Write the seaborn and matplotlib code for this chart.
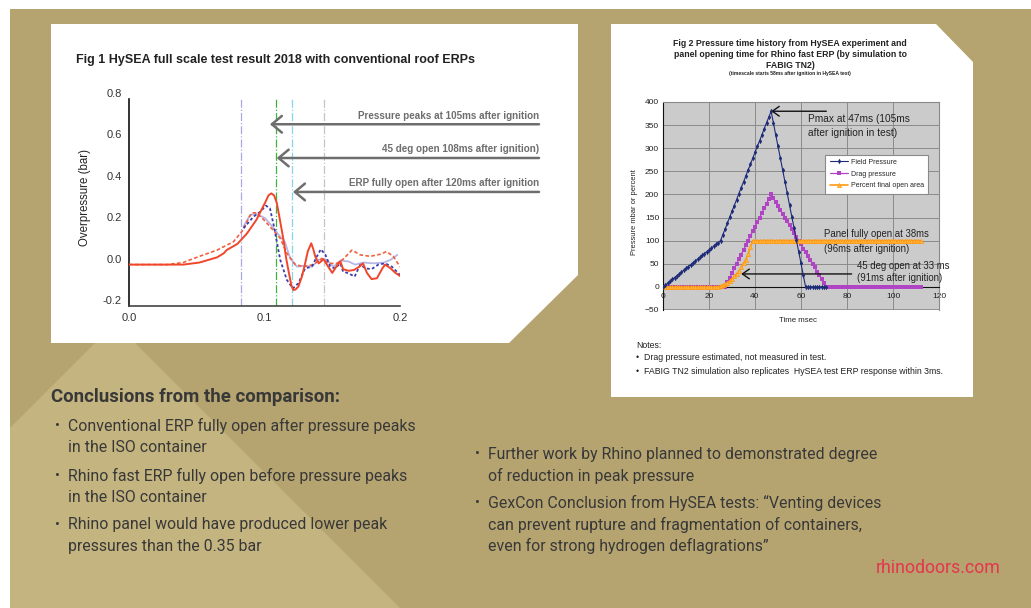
import matplotlib
matplotlib.use("Agg")
import matplotlib.pyplot as plt
from matplotlib.patches import Polygon
import numpy as np
import seaborn as sns

# ---------------- data: Fig 1 (HySEA test, overpressure in bar vs time in s)
red_solid_t = [0.0, 0.02, 0.04, 0.052, 0.065, 0.070, 0.072, 0.080, 0.087, 0.094,
               0.1005, 0.103, 0.105, 0.107, 0.109, 0.111, 0.114, 0.116, 0.118, 0.120,
               0.1214, 0.123, 0.125, 0.1275, 0.130, 0.132, 0.1345, 0.136, 0.1374, 0.140,
               0.1436, 0.147, 0.150, 0.154, 0.156, 0.158, 0.162, 0.166, 0.170, 0.1727,
               0.1756, 0.179, 0.183, 0.187, 0.189, 0.193, 0.1966, 0.200]
red_solid_p = [0.0, 0.0, 0.0, 0.01, 0.035, 0.055, 0.07, 0.10, 0.15, 0.216,
               0.30, 0.335, 0.344, 0.335, 0.30, 0.23, 0.12, 0.03, -0.04, -0.105,
               -0.123, -0.12, -0.106, -0.06, 0.006, 0.065, 0.103, 0.075, 0.04, 0.006,
               0.026, -0.01, -0.04, 0.0, 0.015, -0.022, -0.03, -0.026, -0.01, 0.006,
               -0.04, -0.07, -0.066, -0.018, 0.0, -0.018, -0.04, -0.055]

red_dash_t = [0.0, 0.028, 0.040, 0.052, 0.065, 0.077, 0.0845, 0.088, 0.0906, 0.094,
              0.099, 0.104, 0.1116, 0.1165, 0.1227, 0.129, 0.136, 0.1424, 0.147, 0.1535,
              0.158, 0.1645, 0.1707, 0.178, 0.1855, 0.190, 0.195, 0.200]
red_dash_p = [0.0, 0.0, 0.01, 0.04, 0.07, 0.11, 0.17, 0.22, 0.25, 0.25,
              0.22, 0.184, 0.127, 0.055, 0.0, -0.01, 0.0, 0.03, 0.006, 0.006,
              0.026, 0.07, 0.047, 0.04, 0.05, 0.063, 0.04, -0.01]

blue_dot_t = [0.0845, 0.092, 0.097, 0.101, 0.104, 0.107, 0.1116, 0.1165, 0.121, 0.125,
              0.130, 0.135, 0.1387, 0.1416, 0.145, 0.1485, 0.152, 0.156, 0.158, 0.162,
              0.1665, 0.1707, 0.1744, 0.179, 0.184, 0.189, 0.194, 0.200]
blue_dot_p = [0.176, 0.232, 0.256, 0.285, 0.272, 0.184, 0.023, -0.074, -0.115, -0.09,
              -0.018, -0.01, 0.04, 0.074, 0.047, -0.01, -0.018, 0.006, -0.034, -0.042,
              -0.058, 0.0, -0.018, -0.022, 0.0, 0.006, -0.01, -0.05]

lilac_t = [0.0845, 0.0894, 0.094, 0.1005, 0.105, 0.1116, 0.115, 0.119, 0.124, 0.129,
           0.135, 0.140, 0.145, 0.151, 0.156, 0.162, 0.167, 0.173, 0.1805, 0.188,
           0.193, 0.198]
lilac_p = [0.184, 0.24, 0.245, 0.224, 0.19, 0.135, 0.11, 0.03, -0.01, -0.006,
           -0.01, 0.023, 0.026, -0.01, 0.02, 0.015, 0.0, 0.01, 0.006, 0.01,
           0.023, 0.047]

event_lines = [0.0827, 0.1085, 0.120, 0.144]
event_colors = ["#a9a9e2", "#3cb43c", "#86d6e6", "#c4c4c4"]

arrow_labels = ["Pressure peaks at 105ms after ignition",
                "45 deg open 108ms after ignition)",
                "ERP fully open after 120ms after ignition"]
arrow_heads = [(0.104, 0.678), (0.109, 0.515), (0.121, 0.351)]

# ---------------- data: Fig 2 (simulation, pressure mbar / percent vs time ms)
field_time = np.arange(0, 72)
field_pressure = [0, 4, 8, 12, 16, 20, 24, 28, 32, 36, 40, 44, 48, 52, 56, 60,
                  64, 68, 72, 76, 80, 84, 88, 92, 96, 100,
                  113, 125, 138, 151, 164, 176, 189, 202, 215, 227, 240,
                  253, 265, 278, 291, 304, 316, 329, 342, 355, 367, 380,
                  355, 329, 304, 279, 253, 228, 203, 177, 152, 127, 101, 76, 51, 25, 0,
                  0, 0, 0, 0, 0, 0, 0, 0, 0]

sim_time = np.arange(0, 113)
drag_pressure = ([0] * 28 +
                 [10, 20, 30, 40, 50, 60, 70, 80, 90, 100,
                  110, 120, 130, 140, 150, 160, 170, 180, 190, 200] +
                 [192, 183, 175, 167, 158, 150, 142, 133, 125, 117, 108, 100,
                  92, 83, 75, 67, 58, 50, 42, 33, 25, 17, 8, 0] +
                 [0] * 41)
open_area = ([0] * 25 +
             [2, 4, 6, 9, 13, 18, 23, 28, 34, 42, 51, 59, 71, 86] +
             [100] * 74)

# ---------------- layout helpers (pixel coordinates of the 1031x608 slide)
W, H = 1031, 608
TAN = "#b5a470"
TAN_LIGHT = "#c4b47f"
TEXT = "#383838"

sns.set_style("white")
plt.rcParams['font.family'] = ['Liberation Sans', 'DejaVu Sans']
BODY = ['Roboto', 'DejaVu Sans']

fig = plt.figure(figsize=(W / 100, H / 100), dpi=100)
fig.patch.set_facecolor("white")


def px_axes(left, top, right, bottom):
    return fig.add_axes([left / W, 1 - bottom / H, (right - left) / W, (bottom - top) / H])


def overlay_axes():
    a = fig.add_axes([0, 0, 1, 1])
    a.set_xlim(0, W)
    a.set_ylim(H, 0)
    a.axis("off")
    a.patch.set_alpha(0)
    return a


bg = overlay_axes()

# slide background, lighter wedge and the two white cards
bg.add_patch(Polygon([(10, 9), (W, 9), (W, H), (10, H)], closed=True, fc=TAN, ec="none"))
bg.add_patch(Polygon([(10, 428), (115, 323), (400, H), (10, H)], closed=True, fc=TAN_LIGHT, ec="none"))
bg.add_patch(Polygon([(51, 24), (578, 24), (578, 275), (509, 343), (51, 343)],
                     closed=True, fc="white", ec="none"))
bg.add_patch(Polygon([(611, 24), (936, 24), (973, 62), (973, 397), (611, 397)],
                     closed=True, fc="white", ec="none"))

# ---------------- Fig 1
ax1 = px_axes(129, 99, 400, 306)
ax1.set_facecolor("none")
for x, c in zip(event_lines, event_colors):
    ax1.axvline(x, color=c, lw=0.9, ls="-.", zorder=1)

sns.lineplot(x=lilac_t, y=lilac_p, ax=ax1, color="#b7b7e6", lw=1.3, zorder=2)
sns.lineplot(x=red_dash_t, y=red_dash_p, ax=ax1, color="#f2603e", lw=1.2,
             linestyle=(0, (2.2, 1.4)), zorder=3)
sns.lineplot(x=blue_dot_t, y=blue_dot_p, ax=ax1, color="#3c3caa", lw=1.3,
             linestyle=(0, (1.6, 1.3)), zorder=4)
sns.lineplot(x=red_solid_t, y=red_solid_p, ax=ax1, color="#f0462a", lw=1.4, zorder=5)

ax1.set_xlim(0, 0.2)
ax1.set_ylim(-0.2, 0.8)
ax1.set_xticks([0.0, 0.1, 0.2])
ax1.set_xticklabels(["0.0", "0.1", "0.2"])
ax1.set_xticks(np.arange(0, 0.2001, 0.02), minor=True)
ax1.set_yticks([-0.2, 0.0, 0.2, 0.4, 0.6, 0.8])
ax1.set_yticklabels(["-0.2", "0.0", "0.2", "0.4", "0.6", "0.8"])
ax1.set_yticks([-0.1, 0.1, 0.3, 0.5, 0.7], minor=True)
ax1.tick_params(which="major", direction="inout", length=6, width=1, labelsize=8,
                labelcolor="#333333", color="#222222", pad=2)
ax1.tick_params(which="minor", direction="in", length=4, width=1, color="#222222")
for lab in ax1.get_yticklabels():
    lab.set_verticalalignment("bottom")
for s in ["top", "right"]:
    ax1.spines[s].set_visible(False)
ax1.spines["left"].set_color("#111111")
ax1.spines["bottom"].set_color("#444444")
ax1.spines["left"].set_linewidth(1.2)
ax1.spines["bottom"].set_linewidth(1.2)
ax1.set_xlabel("")
ax1.set_ylabel("")

for (hx, hy) in arrow_heads:
    ax1.annotate("", xy=(hx, hy), xytext=(0.3026, hy), annotation_clip=False,
                 arrowprops=dict(arrowstyle="->,head_length=0.6,head_width=0.5",
                                 color="#6e6e6e", lw=1.8, mutation_scale=12,
                                 shrinkA=0, shrinkB=0))

# ---------------- Fig 2
ax2 = px_axes(663, 102, 939, 310)
ax2.set_facecolor("#cbcbcb")
sns.lineplot(x=sim_time, y=drag_pressure, ax=ax2, color="#b044c4", lw=0.9,
             marker="s", markersize=3.4, markeredgewidth=0, label="Drag pressure", zorder=3)
sns.lineplot(x=sim_time, y=open_area, ax=ax2, color="#ff9810", lw=1.2,
             marker="^", markersize=3, markeredgewidth=0.5, markeredgecolor="#ff9810",
             markerfacecolor="#ffb848", label="Percent final open area", zorder=4)
sns.lineplot(x=field_time, y=field_pressure, ax=ax2, color="#1d2b78", lw=0.8,
             marker="d", markersize=2.8, markeredgewidth=0, label="Field Pressure", zorder=5)

ax2.set_xlim(0, 120)
ax2.set_ylim(-50, 400)
ax2.set_xticks(range(0, 121, 20))
ax2.set_yticks(range(-50, 401, 50))
ax2.grid(True, color="#8a8a8a", lw=0.7)
ax2.set_axisbelow(True)
ax2.spines["bottom"].set_position(("data", 0))
ax2.spines["bottom"].set_color("#111111")
ax2.spines["left"].set_color("#111111")
for s in ["top", "right"]:
    ax2.spines[s].set_color("#8a8a8a")
ax2.axhline(-50, color="#8a8a8a", lw=1.2)
ax2.tick_params(axis="both", labelsize=6, labelcolor="#222222", length=2.5,
                direction="inout", color="#111111", pad=1.5)
ax2.tick_params(axis="x", pad=3)
ax2.set_xlabel("")
ax2.set_ylabel("")

handles, labels = ax2.get_legend_handles_labels()
order = [labels.index(n) for n in ["Field Pressure", "Drag pressure", "Percent final open area"]]
leg = ax2.legend([handles[i] for i in order], [labels[i] for i in order],
                 loc="upper left", bbox_to_anchor=(0.576, 0.764), fontsize=5,
                 frameon=True, fancybox=False, edgecolor="#8a8a8a", framealpha=1,
                 handlelength=2.6, borderpad=0.6, labelspacing=0.7, handletextpad=0.5)
leg.get_frame().set_linewidth(0.8)

ax2.annotate("", xy=(47, 380), xytext=(71, 380), annotation_clip=False,
             arrowprops=dict(arrowstyle="->,head_length=0.5,head_width=0.35", color="#111111",
                             lw=1.0, mutation_scale=10, shrinkA=0, shrinkB=0))
ax2.annotate("", xy=(34, 28), xytext=(82, 28), annotation_clip=False,
             arrowprops=dict(arrowstyle="->,head_length=0.5,head_width=0.35", color="#111111",
                             lw=1.0, mutation_scale=10, shrinkA=0, shrinkB=0))

# ---------------- all slide text on a transparent top layer
top = overlay_axes()

for lab, ly in zip(arrow_labels, [116, 149, 183]):
    top.text(539, ly, lab, ha="right", va="center", fontsize=7.1,
             fontweight="bold", color="#6e6e6e")
top.text(76, 60, "Fig 1 HySEA full scale test result 2018 with conventional roof ERPs",
         ha="left", va="center", fontsize=9, fontweight="bold", color="#222222")
top.text(85, 198, "Overpressure (bar)", rotation=90, ha="center", va="center",
         fontsize=8.3, color="#222222")

top.text(808, 119, "Pmax at 47ms (105ms", fontsize=7.3, color="#222222", va="center")
top.text(808, 133, "after ignition in test)", fontsize=7.3, color="#222222", va="center")
top.text(824, 234, "Panel fully open at 38ms", fontsize=6.9, color="#222222", va="center")
top.text(824, 249, "(96ms after ignition)", fontsize=6.9, color="#222222", va="center")
top.text(857, 266, "45 deg open at 33 ms", fontsize=6.9, color="#222222", va="center")
top.text(857, 278, "(91ms after ignition)", fontsize=6.9, color="#222222", va="center")

fig2_title = ["Fig 2 Pressure time history from HySEA experiment and",
              "panel opening time for Rhino fast ERP (by simulation to",
              "FABIG TN2)"]
for i, line in enumerate(fig2_title):
    top.text(790, 44 + 10.5 * i, line, ha="center", va="center", fontsize=6.35,
             fontweight="bold", color="#222222")
top.text(790, 74, "(timescale starts 58ms after ignition in HySEA test)", ha="center",
         va="center", fontsize=3.6, fontweight="bold", color="#222222")
top.text(798, 321, "Time msec", ha="center", va="center", fontsize=5.6, color="#222222")
top.text(634, 212, "Pressure mbar or percent", rotation=90, ha="center", va="center",
         fontsize=5.4, color="#222222")

notes = ["Drag pressure estimated, not measured in test.",
         "FABIG TN2 simulation also replicates  HySEA test ERP response within 3ms."]
top.text(636, 345, "Notes:", fontsize=6.3, color="#222222", va="center")
for i, n in enumerate(notes):
    top.text(636, 358 + 13 * i, "•", fontsize=6.3, color="#222222", va="center")
    top.text(644, 358 + 13 * i, n, fontsize=6.3, color="#222222", va="center")

# ---------------- conclusions
top.text(51, 397, "Conclusions from the comparison:", fontsize=13.4, fontweight="bold",
         color=TEXT, va="center", family=BODY)

left_bullets = [["Conventional ERP fully open after pressure peaks", "in the ISO container"],
                ["Rhino fast ERP fully open before pressure peaks", "in the ISO container"],
                ["Rhino panel would have produced lower peak", "pressures than the 0.35 bar"]]
right_bullets = [["Further work by Rhino planned to demonstrated degree",
                  "of reduction in peak pressure"],
                 ["GexCon Conclusion from HySEA tests: \u201cVenting devices",
                  "can prevent rupture and fragmentation of containers,",
                  "even for strong hydrogen deflagrations\u201d"]]


def bullet_block(x_dot, x_text, y_starts, items):
    for y0, lines in zip(y_starts, items):
        top.text(x_dot, y0, "•", fontsize=10.5, color=TEXT, va="center", family=BODY)
        for j, line in enumerate(lines):
            top.text(x_text, y0 + 21.5 * j, line, fontsize=11.4, color=TEXT,
                     va="center", family=BODY)


bullet_block(55, 68, [426, 476, 525], left_bullets)
bullet_block(475, 488, [454, 503], right_bullets)

top.text(1001, 568, "rhinodoors.com", ha="right", va="center", fontsize=12.8,
         color="#e6354c", family=BODY)

fig.savefig("out.png", dpi=100)
